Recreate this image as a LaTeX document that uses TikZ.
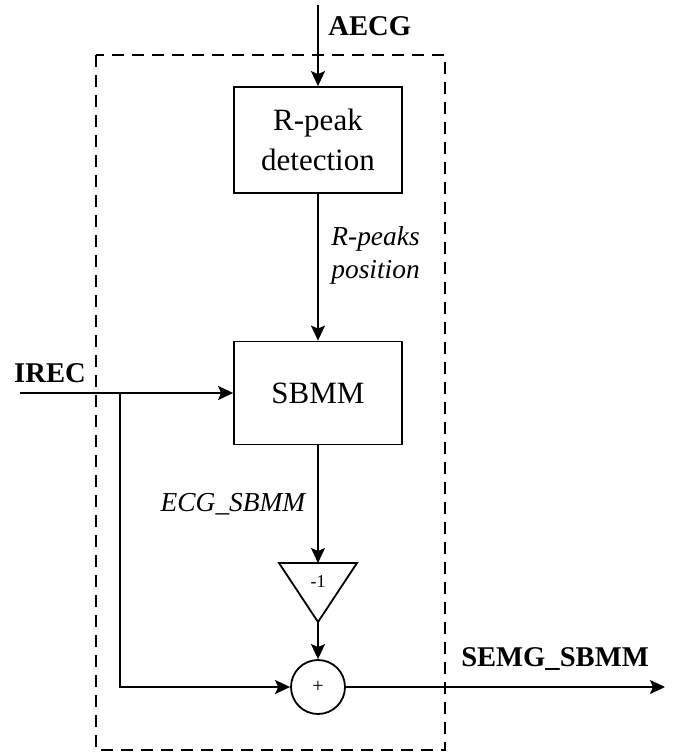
\documentclass[tikz,border=0pt]{standalone}
\usepackage{fontspec}
\setmainfont{Liberation Serif}
\usetikzlibrary{arrows.meta,positioning}
\tikzset{
  ar/.style={-{Stealth[length=7.5pt,width=7pt,inset=1.5pt]},line width=0.9pt},
  ln/.style={line width=0.9pt},
  box/.style={draw,line width=0.9pt,minimum width=84pt,minimum height=53pt,align=center,inner sep=2pt,font=\fontsize{15.5}{20}\selectfont},
  frm/.style={dash pattern=on 6pt off 4pt,line width=0.9pt},
  sig/.style={font=\fontsize{14.3}{16}\selectfont\bfseries,inner sep=0pt},
  lbl/.style={font=\fontsize{13.7}{16.5}\selectfont\itshape,align=left,inner sep=0pt}
}
\begin{document}
\begin{tikzpicture}[x=0.5pt,y=-0.5pt]
\useasboundingbox (0,0) rectangle (673,753);
% frame
\draw[frm] (96,55) rectangle (445,750);
% blocks
\node[box] (rpd) at (318,140) {R-peak\\detection};
\node[box,minimum height=51.5pt] (sbmm) at (318,393) {SBMM};
\coordinate (tritop) at (318,563);
\coordinate (apex) at (318,622);
\draw[ln] (279,563) -- (357,563) -- (apex) -- cycle;
\node[font=\fontsize{9}{10}\selectfont] (neg) at (318,582) {-1};
\node[draw,circle,ln,minimum size=27pt,inner sep=0pt,font=\fontsize{10}{11}\selectfont] (sum) at (318,687) {+};
% ends of the signals
\coordinate (aecg) at (318,5);
\coordinate (irec) at (20,393);
\coordinate (br) at (120,393);
\coordinate (out) at (665,687);
% connectors
\draw[ar] (aecg) -- (rpd);
\draw[ar] (rpd) -- (sbmm);
\draw[ar] (sbmm) -- (tritop);
\draw[ar] (apex) -- (sum);
\draw[ar] (irec) -- (sbmm);
\draw[ar] (br) |- (sum);
\draw[ar] (sum) -- (out);
% labels
\node[sig,anchor=west] (laecg) at (328,26) {AECG};
\node[sig] (lirec) at (50,373) {IREC};
\node[sig] (lsemg) at (555,659) {SEMG\_SBMM};
\node[lbl,anchor=west] (lpos) at (331,255) {R-peaks\\position};
\node[lbl] (lecg) at (233,504) {ECG\_SBMM};
\end{tikzpicture}
\end{document}
